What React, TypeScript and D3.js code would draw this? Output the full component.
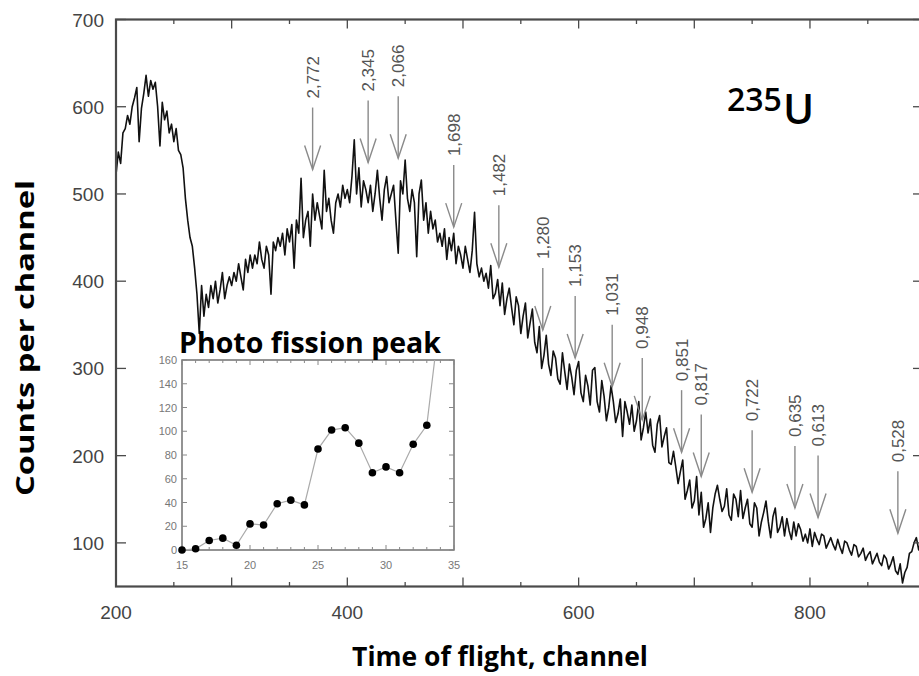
import React from "react";
import * as d3 from "d3";

// Main spectrum: counts per channel, one value every 2 channels starting at channel 200
const CH_START = 200;
const CH_STEP = 2;
const counts: number[] = [
  522, 548, 535, 570, 575, 590, 580, 600, 610, 622,
  560, 598, 615, 636, 612, 630, 620, 628, 600, 555,
  605, 585, 595, 570, 580, 560, 575, 550, 545, 530,
  495, 470, 450, 440, 415, 385, 340, 395, 360, 385,
  370, 395, 380, 400, 375, 390, 410, 380, 395, 405,
  395, 410, 400, 420, 405, 390, 425, 410, 430, 415,
  430, 420, 445, 425, 415, 440, 430, 385, 445, 435,
  450, 440, 455, 430, 460, 445, 465, 415, 470, 455,
  518, 450, 470, 480, 440, 500, 470, 490, 475, 460,
  527, 480, 495, 470, 455, 490, 500, 485, 510, 495,
  505, 490, 520, 562, 500, 530, 485, 515, 505, 490,
  510, 480, 500, 527, 495, 470, 505, 520, 490, 500,
  510, 470, 432, 515, 500, 539, 495, 480, 505, 490,
  428, 500, 516, 470, 490, 455, 480, 460, 470, 445,
  455, 440, 460, 425, 450, 435, 455, 420, 440, 430,
  415, 440, 425, 410, 435, 479, 420, 405, 415, 400,
  409, 392, 418, 380, 386, 402, 372, 398, 362, 380,
  392, 370, 350, 382, 372, 340, 360, 375, 335, 352,
  368, 330, 318, 348, 300, 315, 338, 305, 292, 320,
  312, 288, 282, 318, 296, 276, 305, 290, 270, 298,
  308, 272, 262, 292, 280, 258, 298, 301, 262, 250,
  286, 268, 240, 255, 280, 262, 238, 248, 265, 222,
  262, 250, 236, 258, 228, 240, 262, 218, 232, 250,
  226, 242, 212, 204, 236, 246, 210, 222, 232, 192,
  190, 205, 187, 168, 182, 195, 150, 160, 172, 140,
  148, 176, 132, 158, 118, 128, 146, 112, 140, 156,
  166, 150, 136, 142, 162, 132, 126, 156, 150, 130,
  160, 128, 140, 150, 122, 118, 146, 140, 108, 124,
  135, 148, 124, 106, 130, 140, 112, 118, 130, 108,
  128, 114, 104, 124, 108, 122, 115, 102, 110, 100,
  116, 96, 112, 104, 98, 110, 108, 94, 100, 106,
  98, 92, 104, 95, 88, 102, 100, 92, 86, 98,
  96, 84, 88, 94, 80, 86, 90, 76, 82, 88,
  78, 74, 86, 82, 70, 76, 84, 68, 64, 76,
  54, 66, 72, 88, 90, 100, 106, 92, 102, 112,
];

const yTickValues = [100, 200, 300, 400, 500, 600, 700];
const xTickLabels = [200, 400, 600, 800];

// Peak arrows: label, channel, count at arrow tip
const peakLabels = ["2,772", "2,345", "2,066", "1,698", "1,482", "1,280", "1,153", "1,031", "0,948", "0,851", "0,817", "0,722", "0,635", "0,613", "0,528"];
const peakChannels = [370, 418, 444, 492, 531, 569, 597, 629, 655, 689, 706, 750, 787, 807, 876];
const peakCounts = [528, 536, 541, 462, 416, 344, 312, 279, 241, 204, 176, 158, 140, 129, 111];

// Inset: photo fission peak
const insetChannels = [15, 16, 17, 18, 19, 20, 21, 22, 23, 24, 25, 26, 27, 28, 29, 30, 31, 32, 33, 34];
const insetCounts = [0, 1, 8, 10, 4, 22, 21, 39, 42, 38, 85, 101, 103, 90, 65, 70, 65, 89, 105, 200];
const insetYTicks = [0, 20, 40, 60, 80, 100, 120, 140, 160];
const insetXTicks = [15, 20, 25, 30, 35];

const W = 919;
const H = 676;
const AXIS = "#4a4a4a";
const TICKTXT = "#444";
const ARROW = "#8a8a8a";

export default function App() {
  const x = d3.scaleLinear().domain([200, 896]).range([116, 921]);
  const y = d3.scaleLinear().domain([50, 700]).range([586.5, 19.5]);

  const pts: [number, number][] = counts.map((c, i) => [CH_START + i * CH_STEP, c]);
  const line = d3
    .line<[number, number]>()
    .x((d) => x(d[0]))
    .y((d) => y(d[1]));

  const minorX = d3.range(200, 900, 50);

  const ix = d3.scaleLinear().domain([15, 35]).range([182, 454]);
  const iy = d3.scaleLinear().domain([0, 160]).range([550, 360]);
  const iline = d3
    .line<number>()
    .x((_, i) => ix(insetChannels[i]))
    .y((d) => iy(d));

  const SHAFT = 62;
  const HEAD_H = 24;
  const HEAD_W = 8;

  return (
    <svg
      width={W}
      height={H}
      style={{ position: "fixed", left: 0, top: 0, background: "#fff" }}
      xmlns="http://www.w3.org/2000/svg"
    >
      <rect x={0} y={0} width={W} height={H} fill="#fff" />
      <defs>
        <clipPath id="plotClip">
          <rect x={116} y={19.5} width={805} height={567} />
        </clipPath>
        <clipPath id="insetClip">
          <rect x={182} y={360} width={272} height={190} />
        </clipPath>
      </defs>

      {/* spectrum */}
      <path
        d={line(pts) || ""}
        fill="none"
        stroke="#111"
        strokeWidth={1.6}
        strokeLinejoin="round"
        clipPath="url(#plotClip)"
      />

      {/* frame */}
      <rect x={116} y={19.5} width={805} height={567} fill="none" stroke={AXIS} strokeWidth={2.2} />

      {/* bottom & top ticks */}
      {minorX.map((v) => {
        const major = v % 100 === 0;
        const len = major ? 9 : 4.5;
        return (
          <g key={"xt" + v}>
            <line x1={x(v)} x2={x(v)} y1={586.5} y2={586.5 - len} stroke={AXIS} strokeWidth={1.3} />
            <line x1={x(v)} x2={x(v)} y1={19.5} y2={19.5 + len} stroke={AXIS} strokeWidth={1.3} />
          </g>
        );
      })}
      {xTickLabels.map((v) => (
        <text
          key={"xl" + v}
          x={x(v)}
          y={619}
          textAnchor="middle"
          fontFamily="Liberation Sans, Arial, sans-serif"
          fontSize={19}
          fill={TICKTXT}
        >
          {v}
        </text>
      ))}

      {/* left & right ticks */}
      {yTickValues.map((v) => (
        <g key={"yt" + v}>
          <line x1={116} x2={126} y1={y(v)} y2={y(v)} stroke={AXIS} strokeWidth={1.3} />
          <line x1={921} x2={913} y1={y(v)} y2={y(v)} stroke={AXIS} strokeWidth={1.3} />
          <text
            x={104}
            y={y(v) + 7}
            textAnchor="end"
            fontFamily="Liberation Sans, Arial, sans-serif"
            fontSize={19}
            fill={TICKTXT}
          >
            {v}
          </text>
        </g>
      ))}

      {/* peak arrows */}
      {peakLabels.map((lab, i) => {
        const tx = x(peakChannels[i]);
        const ty = y(peakCounts[i]);
        const top = ty - SHAFT;
        return (
          <g key={"pk" + i}>
            <line x1={tx} x2={tx} y1={top} y2={ty} stroke={ARROW} strokeWidth={1.4} />
            <polyline
              points={`${tx - HEAD_W},${ty - HEAD_H} ${tx},${ty} ${tx + HEAD_W},${ty - HEAD_H}`}
              fill="none"
              stroke={ARROW}
              strokeWidth={1.4}
            />
            <text
              transform={`translate(${tx + 6},${top - 9}) rotate(-90)`}
              textAnchor="start"
              fontFamily="Liberation Sans, Arial, sans-serif"
              fontSize={17}
              fill="#555"
            >
              {lab}
            </text>
          </g>
        );
      })}

      {/* 235U */}
      <text x={727} y={111} fontFamily="Open Sans, sans-serif" fontWeight={600} fontSize={32} fill="#000">
        235
      </text>
      <text x={783} y={124} fontFamily="Open Sans, sans-serif" fontWeight={600} fontSize={42} fill="#000">
        U
      </text>

      {/* inset */}
      <rect x={182} y={360} width={272} height={190} fill="#fff" stroke="#666" strokeWidth={1.4} />
      {d3.range(15, 36, 1).map((v) => (
        <g key={"ixt" + v}>
          <line x1={ix(v)} x2={ix(v)} y1={550} y2={550 - (v % 5 === 0 ? 5 : 3)} stroke="#888" strokeWidth={1} />
          <line x1={ix(v)} x2={ix(v)} y1={360} y2={360 + (v % 5 === 0 ? 5 : 3)} stroke="#888" strokeWidth={1} />
        </g>
      ))}
      {insetYTicks.map((v) => (
        <g key={"iyt" + v}>
          <line x1={182} x2={187} y1={iy(v)} y2={iy(v)} stroke="#888" strokeWidth={1} />
          <line x1={454} x2={449} y1={iy(v)} y2={iy(v)} stroke="#888" strokeWidth={1} />
          <text
            x={177}
            y={iy(v) + 4}
            textAnchor="end"
            fontFamily="Liberation Sans, Arial, sans-serif"
            fontSize={11}
            fill="#777"
          >
            {v}
          </text>
        </g>
      ))}
      {insetXTicks.map((v) => (
        <text
          key={"ixl" + v}
          x={ix(v)}
          y={569}
          textAnchor="middle"
          fontFamily="Liberation Sans, Arial, sans-serif"
          fontSize={11}
          fill="#777"
        >
          {v}
        </text>
      ))}
      <path d={iline(insetCounts) || ""} fill="none" stroke="#aaa" strokeWidth={1.2} clipPath="url(#insetClip)" />
      {insetCounts.slice(0, insetCounts.length - 1).map((v, i) => (
        <circle key={"ip" + i} cx={ix(insetChannels[i])} cy={iy(v)} r={3.8} fill="#000" />
      ))}
      <text x={179} y={353} fontFamily="Open Sans, sans-serif" fontWeight={700} fontSize={28.5} fill="#000">
        Photo fission peak
      </text>

      {/* axis titles */}
      <text
        x={500}
        y={666}
        textAnchor="middle"
        fontFamily="Open Sans, sans-serif"
        fontWeight={700}
        fontSize={26.5}
        fill="#000"
      >
        Time of flight, channel
      </text>
      <text
        transform={`translate(34,338) rotate(-90)`}
        textAnchor="middle"
        fontFamily="Open Sans, sans-serif"
        fontWeight={700}
        fontSize={25}
        textLength={316}
        lengthAdjust="spacingAndGlyphs"
        fill="#000"
      >
        Counts per channel
      </text>
    </svg>
  );
}
